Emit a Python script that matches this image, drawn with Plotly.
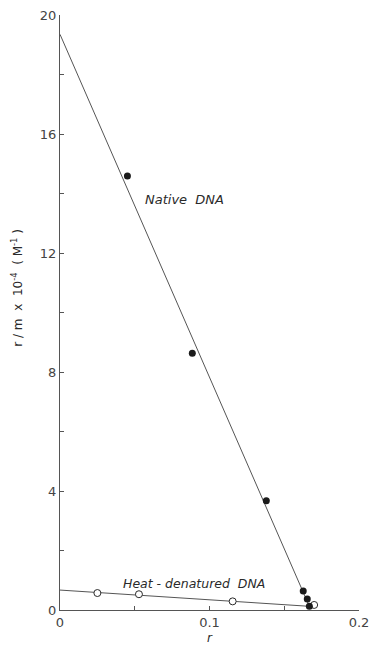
import plotly.graph_objects as go

# Data
native_r = [0.0451, 0.0885, 0.138, 0.1627, 0.1654, 0.1668]
native_v = [14.59, 8.63, 3.67, 0.64, 0.37, 0.13]
native_fit_r = [0.0, 0.167]
native_fit_v = [19.35, 0.10]

denat_r = [0.025, 0.0528, 0.1155, 0.170]
denat_v = [0.57, 0.53, 0.29, 0.17]
denat_fit_r = [0.0, 0.168]
denat_fit_v = [0.67, 0.12]

x_ticks = [0, 0.1, 0.2]
y_ticks = [0, 4, 8, 12, 16, 20]

LINE = "#555555"
INK = "#2a2a2a"
FONT = "DejaVu Sans"

fig = go.Figure()
fig.add_trace(go.Scatter(x=native_fit_r, y=native_fit_v, mode="lines",
                         line=dict(color=LINE, width=1), showlegend=False))
fig.add_trace(go.Scatter(x=denat_fit_r, y=denat_fit_v, mode="lines",
                         line=dict(color=LINE, width=1), showlegend=False))
fig.add_trace(go.Scatter(x=denat_r, y=denat_v, mode="markers",
                         marker=dict(symbol="circle", size=7, color="white",
                                     line=dict(color=INK, width=1)),
                         showlegend=False, cliponaxis=False))
fig.add_trace(go.Scatter(x=native_r, y=native_v, mode="markers",
                         marker=dict(symbol="circle", size=7, color="#1a1a1a"),
                         showlegend=False, cliponaxis=False))

fig.add_annotation(x=0.0555, y=13.8, text="<i>Native&nbsp; DNA</i>", showarrow=False,
                   xanchor="left", yanchor="middle",
                   font=dict(family=FONT, size=13, color=INK))
fig.add_annotation(x=0.041, y=0.9, text="<i>Heat - denatured&nbsp; DNA</i>", showarrow=False,
                   xanchor="left", yanchor="middle",
                   font=dict(family=FONT, size=12.5, color=INK))
fig.add_annotation(xref="paper", yref="paper", x=-0.145, y=0.541,
                   text="r / m  x  10<sup>-4</sup>  ( M<sup>-1</sup> )", textangle=-90,
                   showarrow=False, xanchor="center", yanchor="middle",
                   font=dict(family=FONT, size=12, color=INK))
fig.add_annotation(xref="paper", yref="paper", x=0.502, y=-0.047,
                   text="<i>r</i>", showarrow=False, xanchor="center", yanchor="middle",
                   font=dict(family=FONT, size=12, color=INK))

axis_common = dict(showgrid=False, zeroline=False, showline=True, linecolor=LINE,
                   linewidth=1, ticks="inside", ticklen=4, tickcolor=LINE,
                   automargin=False,
                   tickfont=dict(family=FONT, size=13, color="#444444"))
fig.update_xaxes(range=[0, 0.2], tickvals=x_ticks, ticktext=["0", "0.1", "0.2"],
                 minor=dict(tickvals=[0.05, 0.15], ticks="inside", ticklen=4, tickcolor=LINE),
                 **axis_common)
fig.update_yaxes(range=[0, 20], tickvals=y_ticks,
                 minor=dict(tickvals=[2, 6, 10, 14, 18], ticks="inside", ticklen=4, tickcolor=LINE),
                 **axis_common)

fig.update_layout(width=373, height=645, margin=dict(l=60, r=14, t=15, b=35),
                  plot_bgcolor="white", paper_bgcolor="white")
fig.write_html("out.html")
